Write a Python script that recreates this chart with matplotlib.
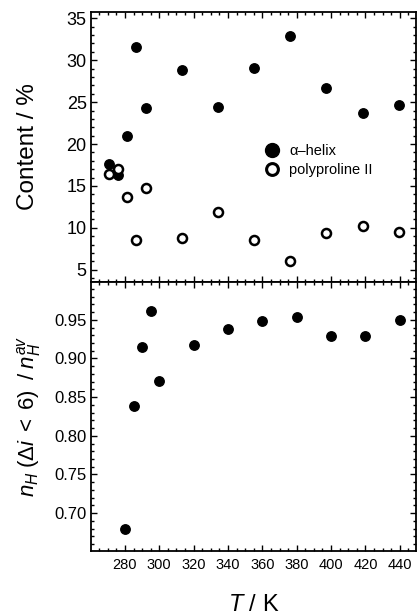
import matplotlib
matplotlib.use("Agg")
import matplotlib.pyplot as plt
from matplotlib.ticker import MultipleLocator
from matplotlib.lines import Line2D

plt.rcParams['font.family'] = ['Liberation Sans', 'DejaVu Sans']
plt.rcParams['mathtext.fontset'] = 'custom'
plt.rcParams['mathtext.rm'] = 'Liberation Sans'
plt.rcParams['mathtext.it'] = 'Liberation Sans:italic'
plt.rcParams['mathtext.bf'] = 'Liberation Sans:bold'

# Top panel data
T_top = [270.7, 276, 281, 286.5, 292, 313, 334, 355, 376, 397, 418.5, 439.5]
helix = [17.56, 16.36, 20.94, 31.6, 24.32, 28.79, 24.44, 29.1, 32.89, 26.71, 23.65, 24.6]
ppii = [16.48, 17.0, 13.73, 8.6, 14.76, 8.75, 11.86, 8.51, 6.04, 9.35, 10.19, 9.5]

# Bottom panel data
T_bot = [280, 285, 290, 295, 300, 320, 340, 360, 380, 400, 420, 440]
ratio = [0.679, 0.838, 0.915, 0.961, 0.871, 0.918, 0.938, 0.948, 0.954, 0.929, 0.929, 0.950]

fig = plt.figure(figsize=(4.17, 6.16), dpi=100)
gs = fig.add_gridspec(2, 1, left=0.218, right=0.997, top=0.9805, bottom=0.1055, hspace=0)
ax1 = fig.add_subplot(gs[0])
ax2 = fig.add_subplot(gs[1], sharex=ax1)

ax1.plot(T_top, helix, 'o', color='black', ms=6.8, mec='black', zorder=3)
ax1.plot(T_top, ppii, 'o', mfc='white', mec='black', mew=1.8, ms=6.5, zorder=3)
ax2.plot(T_bot, ratio, 'o', color='black', ms=6.8, zorder=3)

ax1.set_xlim(260.2, 449.3)
ax1.set_ylim(3.6, 35.75)
ax2.set_ylim(0.651, 0.9995)

for ax in (ax1, ax2):
    ax.xaxis.set_major_locator(MultipleLocator(20))
    ax.xaxis.set_minor_locator(MultipleLocator(5))
    ax.tick_params(which='both', direction='in', top=True, right=True, width=1.0)
    ax.tick_params(which='major', length=4.5)
    ax.tick_params(which='minor', length=2.5)
    for s in ax.spines.values():
        s.set_linewidth(1.3)

ax1.yaxis.set_minor_locator(MultipleLocator(1))
ax1.set_yticks([5, 10, 15, 20, 25, 30, 35])
ax1.tick_params(axis='x', labelbottom=False)
ax1.tick_params(axis='y', labelsize=13, pad=3)

ax2.set_yticks([0.70, 0.75, 0.80, 0.85, 0.90, 0.95])
ax2.set_yticklabels(['0.70', '0.75', '0.80', '0.85', '0.90', '0.95'])
ax2.yaxis.set_minor_locator(MultipleLocator(0.01))
ax2.set_xticks([280, 300, 320, 340, 360, 380, 400, 420, 440])
ax2.tick_params(axis='y', labelsize=12, pad=3)
ax2.tick_params(axis='x', labelsize=10.5, pad=5)

ax1.set_ylabel('Content / %', fontsize=17.5, labelpad=20)
ax2.set_ylabel(r'$n_H\;(\Delta i\;<\;6)\;\;/\;n_H^{av}$', fontsize=16, labelpad=8)
ax2.set_xlabel(r'$T$ / K', fontsize=17, labelpad=16)

handles = [
    Line2D([], [], ls='none', marker='o', color='black', ms=10),
    Line2D([], [], ls='none', marker='o', mfc='white', mec='black', mew=2.2, ms=8.5),
]
ax1.legend(handles, ['α–helix', 'polyproline II'], loc='upper left',
           bbox_to_anchor=(0.49, 0.56), frameon=False, fontsize=10.5,
           handletextpad=0.6, labelspacing=0.35, handlelength=1.2)

fig.savefig('out.png', dpi=100)
